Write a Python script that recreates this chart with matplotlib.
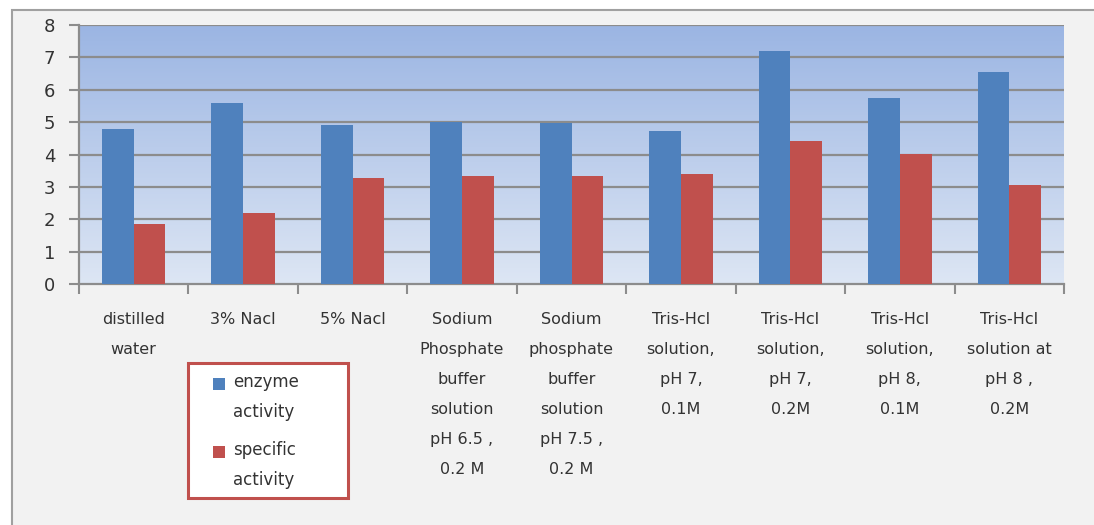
import numpy as np
import matplotlib.pyplot as plt
from matplotlib.patches import Rectangle
from matplotlib.colors import LinearSegmentedColormap

categories = ['distilled\nwater', '3% Nacl', '5% Nacl',
              'Sodium\nPhosphate\nbuffer\nsolution\npH 6.5 ,\n0.2 M',
              'Sodium\nphosphate\nbuffer\nsolution\npH 7.5 ,\n0.2 M',
              'Tris-Hcl\nsolution,\npH 7,\n0.1M',
              'Tris-Hcl\nsolution,\npH 7,\n0.2M',
              'Tris-Hcl\nsolution,\npH 8,\n0.1M',
              'Tris-Hcl\nsolution at\npH 8 ,\n0.2M']
series_names = ['enzyme\nactivity', 'specific\nactivity']
enzyme_activity = [4.8, 5.6, 4.9, 5.0, 4.97, 4.72, 7.2, 5.76, 6.56]
specific_activity = [1.85, 2.2, 3.28, 3.33, 3.33, 3.4, 4.43, 4.02, 3.06]

blue = '#4f81bd'
red = '#c0504d'

W, H = 1094, 525
fig = plt.figure(figsize=(W / 100, H / 100), dpi=100, facecolor='white')
bg = Rectangle((12 / W, -0.01), 1, 1.01 - 10 / H, transform=fig.transFigure,
               facecolor='#f2f2f2', edgecolor='#a0a0a0', lw=1.5, zorder=-10)
fig.patches.append(bg)

ax = fig.add_axes([79 / W, 1 - 284 / H, 985 / W, 259 / H])
ax.set_facecolor('none')

n = len(categories)
x = np.arange(n)
w = 0.29

# gradient background
grad = np.linspace(0, 1, 256).reshape(-1, 1)
cm = LinearSegmentedColormap.from_list('bg', ['#dde6f4', '#9bb5e3'])
ax.imshow(grad, aspect='auto', cmap=cm, origin='lower',
          extent=(-0.5, n - 0.5, 0, 8), zorder=0)

ax.bar(x - w / 2, enzyme_activity, w, color=blue, zorder=3)
ax.bar(x + w / 2, specific_activity, w, color=red, zorder=3)

ax.set_xlim(-0.5, n - 0.5)
ax.set_ylim(0, 8)
ax.set_yticks(range(9))
for yv in range(1, 9):
    ax.axhline(yv, color='#8c8c8c', lw=1.6, zorder=2)

ax.set_xticks(np.arange(n + 1) - 0.5)
ax.set_xticklabels([])
ax.set_xticks(x, minor=True)
ax.set_xticklabels(categories, minor=True, fontsize=11.5, color='#333333',
                   linespacing=2.25, va='top')
ax.tick_params(axis='x', which='minor', length=0, pad=20)
ax.tick_params(axis='x', which='major', length=7, width=1.5, color='#8c8c8c', direction='out')
ax.tick_params(axis='y', length=7, width=1.5, color='#8c8c8c', direction='out',
               labelsize=13, labelcolor='#333333', pad=10)

for s in ['top', 'right']:
    ax.spines[s].set_visible(False)
for s in ['left', 'bottom']:
    ax.spines[s].set_color('#8c8c8c')
    ax.spines[s].set_linewidth(1.6)

# legend box, drawn by hand so the swatch sits on the first text line
fig.patches.append(Rectangle((188 / W, 1 - 498 / H), 160 / W, 135 / H,
                             transform=fig.transFigure, facecolor='white',
                             edgecolor=red, lw=2.2, zorder=5))
for i, (name, col) in enumerate(zip(series_names, [blue, red])):
    ytop = 373 + i * 68
    fig.patches.append(Rectangle((213 / W, 1 - (ytop + 17) / H), 12 / W, 12 / H,
                                 transform=fig.transFigure, facecolor=col,
                                 edgecolor='none', zorder=6))
    fig.text(233 / W, 1 - ytop / H, name, fontsize=12, color='#333333',
             va='top', ha='left', linespacing=1.85, zorder=6)

fig.savefig('out.png', dpi=100)
